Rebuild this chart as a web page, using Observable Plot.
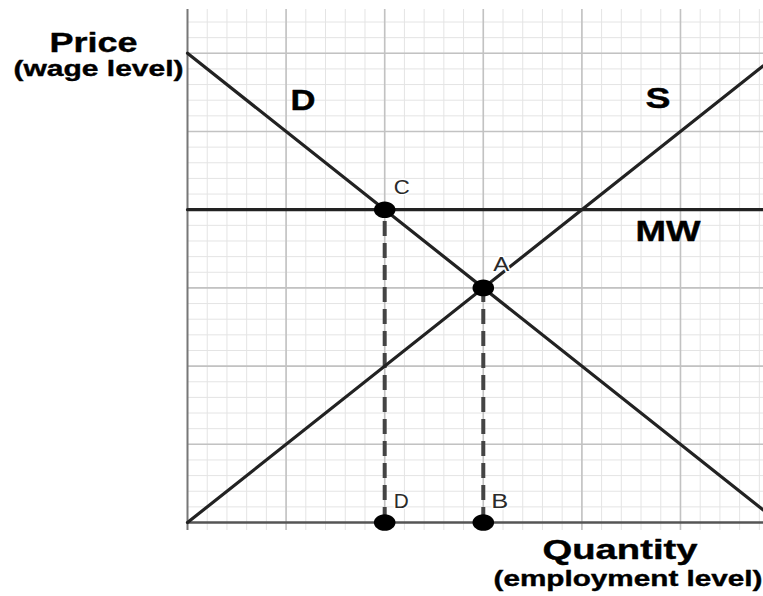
<!DOCTYPE html>
<html>
<head>
<meta charset="utf-8">
<script src="https://cdn.jsdelivr.net/npm/d3@7"></script>
<script src="https://cdn.jsdelivr.net/npm/@observablehq/plot@0.6"></script>
<style>
  html, body { margin: 0; padding: 0; background: #fff; }
  svg { display: block; }
</style>
</head>
<body>
<div id="chart"></div>
<script>
// ---- data ----
const demandX = [0, 5.84];
const demandY = [6, 0.16];
const supplyX = [0, 5.84];
const supplyY = [0, 5.84];
const minWage = 4;
const minWageX = [0, 5.84];
const pointLabels = ["C", "A", "D", "B"];
const pointX = [2, 3, 2, 3];
const pointY = [4, 3, 0, 0];
const dropX = [2, 3];
const dropTop = [4, 3];
const minorStep = 0.2;
const majorXTicks = [1, 2, 3, 4, 5];
const majorYTicks = [1, 2, 3, 4, 5, 6];

// ---- layout ----
const xDom = [0, 5.842];
const yDom = [-0.102, 6.56];
const minorX = d3.range(0, 5.85, minorStep).map(v => +v.toFixed(2)).filter(v => v > 0);
const minorY = d3.range(0, 6.5, minorStep).map(v => +v.toFixed(2)).filter(v => v > 0);

const demand = demandX.map((x, i) => ({x, y: demandY[i]}));
const supply = supplyX.map((x, i) => ({x, y: supplyY[i]}));
const mw = minWageX.map(x => ({x, y: minWage}));
const points = pointLabels.map((label, i) => ({label, x: pointX[i], y: pointY[i]}));
const drops = dropX.map((x, i) => ({x, top: dropTop[i]}));

const frameLeft = 187, frameTop = 9;
const staticLabels = [
  {text: "Price", px: 49, py: 51, size: 27, weight: "bold"},
  {text: "(wage level)", px: 13, py: 75, size: 22, weight: "bold"},
  {text: "D", px: 290, py: 109, size: 29, weight: "bold"},
  {text: "S", px: 645, py: 107, size: 29, weight: "bold"},
  {text: "MW", px: 635, py: 240, size: 29, weight: "bold"},
  {text: "Quantity", px: 542, py: 558, size: 27, weight: "bold"},
  {text: "(employment level)", px: 493, py: 585, size: 22, weight: "bold"}
];
const staticWidths = [88, 170, 25, 25, 65, 155, 269];
const pointDx = [9, 10, 9, 8];
const pointDy = [-16, -17, -15, -15];
const pointWidths = [16, 16, 15, 17];

const font = "'Liberation Sans', Arial, sans-serif";

// ellipse symbol (reference dots are slightly wider than tall)
const ellipse = {
  draw(ctx, size) {
    const r = Math.sqrt(size / Math.PI);
    const rx = r * 1.3, ry = r, k = 0.5523;
    ctx.moveTo(rx, 0);
    ctx.bezierCurveTo(rx, k * ry, k * rx, ry, 0, ry);
    ctx.bezierCurveTo(-k * rx, ry, -rx, k * ry, -rx, 0);
    ctx.bezierCurveTo(-rx, -k * ry, -k * rx, -ry, 0, -ry);
    ctx.bezierCurveTo(k * rx, -ry, rx, -k * ry, rx, 0);
    ctx.closePath();
  }
};

const marks = [
  Plot.ruleX(minorX, {x: d => d, y1: yDom[0], y2: yDom[1], stroke: "#e4e4e4", strokeWidth: 1}),
  Plot.ruleY(minorY, {y: d => d, x1: 0, x2: xDom[1], stroke: "#e4e4e4", strokeWidth: 1}),
  Plot.ruleX(majorXTicks, {x: d => d, y1: yDom[0], y2: yDom[1], stroke: "#c2c2c2", strokeWidth: 1.6}),
  Plot.ruleY(majorYTicks, {y: d => d, x1: 0, x2: xDom[1], stroke: "#c2c2c2", strokeWidth: 1.6}),
  Plot.ruleX([0], {y1: yDom[0], y2: yDom[1], stroke: "#777", strokeWidth: 2}),
  Plot.ruleY([0], {x1: 0, x2: xDom[1], stroke: "#555", strokeWidth: 2.5}),
  Plot.ruleX(drops, {x: "x", y1: 0, y2: "top", stroke: "#444", strokeWidth: 4, strokeDasharray: "15,7"}),
  Plot.line(mw, {x: "x", y: "y", stroke: "#222", strokeWidth: 3.2}),
  Plot.line(demand, {x: "x", y: "y", stroke: "#222", strokeWidth: 3.2}),
  Plot.line(supply, {x: "x", y: "y", stroke: "#222", strokeWidth: 3.2}),
  Plot.dot(points, {x: "x", y: "y", r: 8.3, symbol: ellipse, fill: "#000", stroke: "none"}),
];
points.forEach((p, i) => {
  marks.push(Plot.text([p], {x: "x", y: "y", text: "label", dx: pointDx[i], dy: pointDy[i],
    textAnchor: "start", lineAnchor: "bottom", fontSize: 20, fill: "#2a2a2a", fontFamily: font,
    stroke: "#fff", strokeWidth: 3, paintOrder: "stroke"}));
});
staticLabels.forEach(l => {
  marks.push(Plot.text([l.text], {frameAnchor: "top-left", dx: l.px - frameLeft, dy: l.py - frameTop,
    textAnchor: "start", lineAnchor: "bottom", fontSize: l.size, fontWeight: l.weight, fill: "#000",
    stroke: "#000", strokeWidth: 0.4, fontFamily: font}));
});

const chart = Plot.plot({
  width: 763,
  height: 596,
  marginLeft: 187,
  marginRight: 0,
  marginTop: 9,
  marginBottom: 66,
  x: {domain: xDom, axis: null},
  y: {domain: yDom, axis: null},
  style: {background: "#fff", overflow: "visible"},
  marks
});
document.getElementById("chart").appendChild(chart);

const widths = [...pointWidths, ...staticWidths];
const texts = chart.querySelectorAll('g[aria-label="text"] text');
texts.forEach((t, i) => {
  if (widths[i] != null) {
    t.setAttribute("textLength", widths[i]);
    t.setAttribute("lengthAdjust", "spacingAndGlyphs");
  }
});
</script>
</body>
</html>
